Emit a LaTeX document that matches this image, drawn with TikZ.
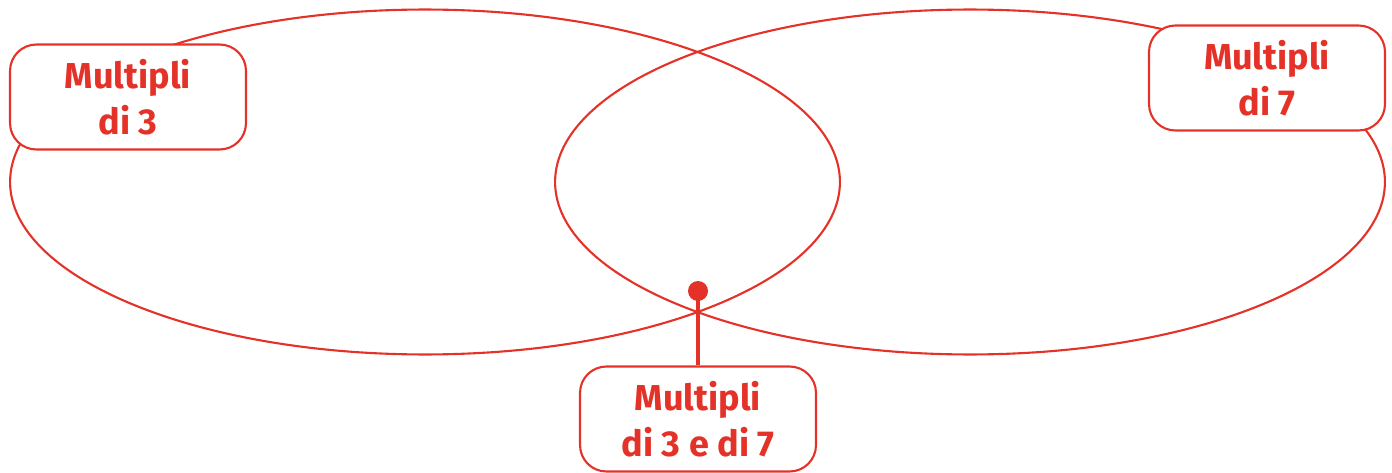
\documentclass[tikz,border=0pt]{standalone}
\usepackage{fontspec}
\setmainfont{Fira Sans}
\usetikzlibrary{positioning,shapes.geometric}
\definecolor{vred}{RGB}{228,50,40}
\tikzset{
  setring/.style={draw=vred, line width=1.2pt, ellipse, inner sep=0pt,
                  minimum width=16.6cm, minimum height=6.9cm},
  tag/.style={draw=vred, line width=1.2pt, fill=white, rounded corners=15pt,
              minimum width=4.72cm, minimum height=2.1cm, align=center,
              text=vred, font=\bfseries\fontsize{20.5}{26.5}\selectfont},
  pin dot/.style={circle, fill=vred, inner sep=0pt, minimum size=0.4cm},
}
\begin{document}
\begin{tikzpicture}[x=0.02cm, y=-0.02cm]
  \useasboundingbox (0,0) rectangle (1392,473);

  % the two sets
  \node[setring] (set3) at (425,182) {};
  \node[setring] (set7) at (970,182) {};

  % labels
  \node[tag] (tag3) at (128,97) {Multipli\\di 3};
  \node[tag] (tag7) at (1267,78) {Multipli\\di 7};
  \node[tag] (tagboth) at (698,419) {Multipli\\di 3 e di 7};

  % pointer into the intersection
  \node[pin dot] (dot) at (698,291) {};
  \draw[vred, line width=2.2pt] (dot.center) -- (tagboth.north);
\end{tikzpicture}
\end{document}
